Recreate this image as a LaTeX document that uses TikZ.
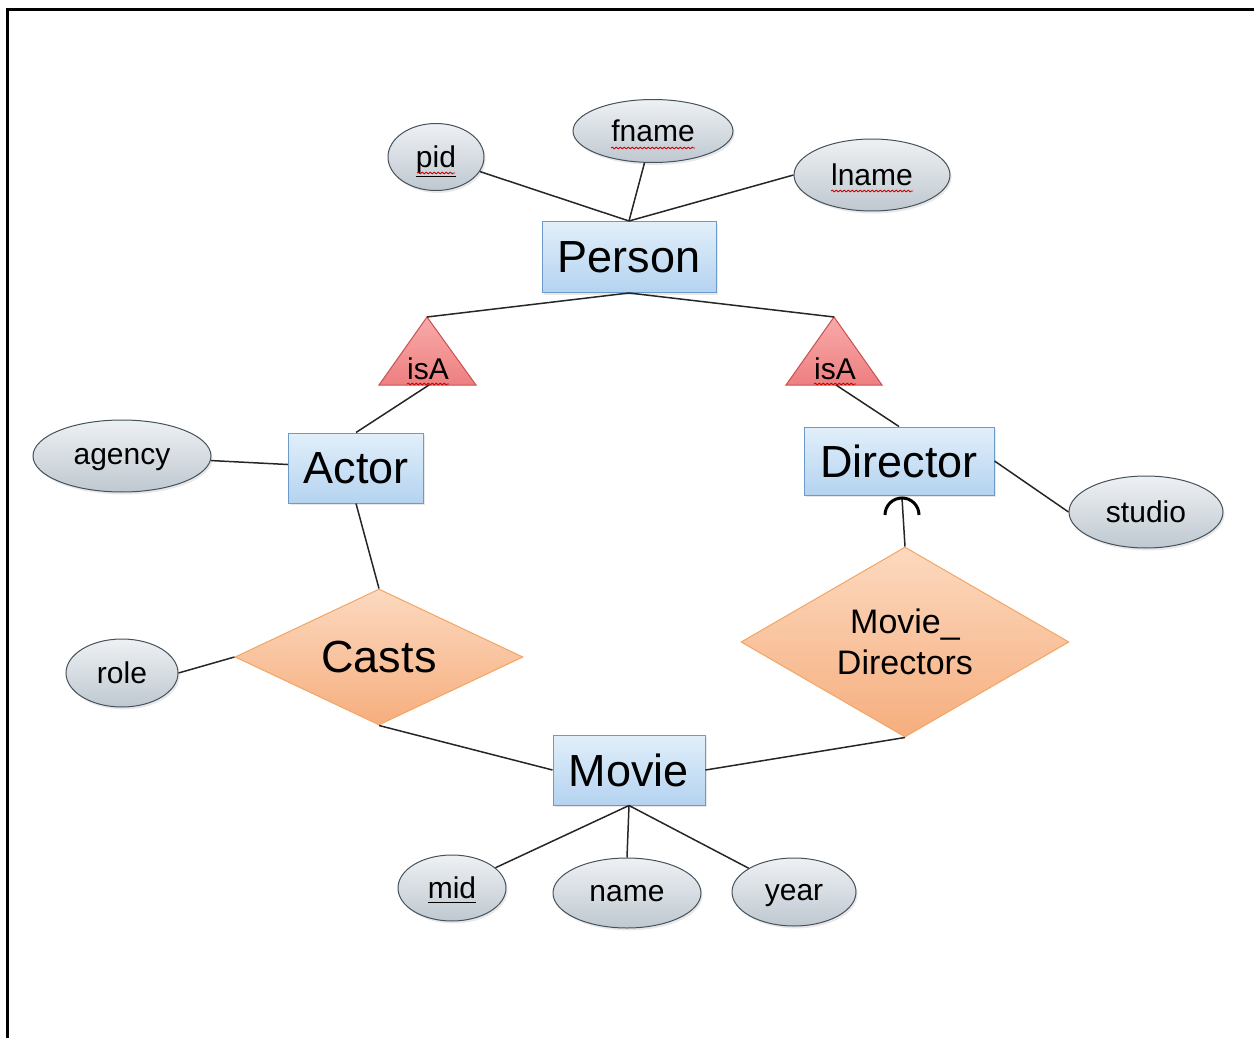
\documentclass[tikz,border=0pt]{standalone}
\usepackage{fontspec}
\setmainfont{Liberation Sans}
\usetikzlibrary{shapes.geometric,shadows,calc,decorations.pathmorphing}

% palette
\definecolor{entTop}{HTML}{E2EFFA}
\definecolor{entBot}{HTML}{B4D3F0}
\definecolor{entLine}{HTML}{6C9BCB}
\definecolor{attTop}{HTML}{EEF1F4}
\definecolor{attBot}{HTML}{BFC8D0}
\definecolor{attLine}{HTML}{45525C}
\definecolor{relTop}{HTML}{FCD9BF}
\definecolor{relBot}{HTML}{F6AE7E}
\definecolor{relLine}{HTML}{F3A563}
\definecolor{isaTop}{HTML}{F8AAAA}
\definecolor{isaBot}{HTML}{EE7F80}
\definecolor{isaLine}{HTML}{C9504F}

\tikzset{
  entity/.style={rectangle, draw=entLine, line width=0.5pt,
    top color=entTop, bottom color=entBot, inner sep=0pt, text depth=0pt,
    font=\fontsize{22.5}{27}\selectfont,
    drop shadow={opacity=0.18, shadow xshift=0.8pt, shadow yshift=-1.2pt}},
  attr/.style={ellipse, draw=attLine, line width=0.5pt,
    top color=attTop, bottom color=attBot, inner sep=0pt, text depth=0pt,
    font=\fontsize{15}{18}\selectfont,
    drop shadow={opacity=0.18, shadow xshift=0.8pt, shadow yshift=-1.2pt}},
  rel/.style={diamond, draw=relLine, line width=0.5pt,
    top color=relTop, bottom color=relBot, inner sep=0pt},
  isa/.style={draw=isaLine, line width=0.5pt, top color=isaTop, bottom color=isaBot},
  link/.style={line width=0.75pt, draw=black!85},
  squig/.style={draw=red!80!black, line width=0.4pt, decorate,
    decoration={snake, amplitude=0.45pt, segment length=2pt}},
}

\begin{document}
\begin{tikzpicture}[x=0.5pt, y=-0.5pt]
\useasboundingbox (0,0) rectangle (1254,1038);

% page frame (top and left edges)
\draw[line width=1.5pt] (7,1038) -- (7,10) -- (1254,10);

% entities
\node[entity, minimum width=87pt, minimum height=35.5pt] (person) at (629,257) {Person};
\node[entity, minimum width=67.5pt, minimum height=35pt] (actor) at (356,468) {Actor};
\node[entity, minimum width=95pt, minimum height=34pt] (director) at (899,461) {Director};
\node[entity, minimum width=76pt, minimum height=35pt] (movie) at (629,770) {Movie};

% attributes
\node[attr, minimum width=48pt, minimum height=33.5pt] (pid) at (436,157) {\underline{pid}};
\node[attr, minimum width=80pt, minimum height=31.5pt] (fname) at (653,131) {fname};
\node[attr, minimum width=78pt, minimum height=36pt] (lname) at (872,175) {lname};
\node[attr, minimum width=89pt, minimum height=36pt] (agency) at (122,456) {agency};
\node[attr, minimum width=77pt, minimum height=36pt] (studio) at (1146,512) {studio};
\node[attr, minimum width=56pt, minimum height=34pt] (role) at (122,673) {role};
\node[attr, minimum width=54pt, minimum height=33pt] (mid) at (452,888) {\underline{mid}};
\node[attr, minimum width=74pt, minimum height=35pt] (name) at (627,893) {name};
\node[attr, minimum width=62pt, minimum height=34pt] (year) at (794,892) {year};

% relationships
\node[rel, aspect=2.1, minimum width=144pt, minimum height=68pt,
  font=\fontsize{22.5}{27}\selectfont] (casts) at (379,657) {Casts};
\node[rel, aspect=1.73, minimum width=164pt, minimum height=95pt, align=center,
  font=\fontsize{17}{20.5}\selectfont] (md) at (905,642) {Movie\_\\Directors};

% isA triangles
\path[isa] (427,317) -- (476,385) -- (379,385) -- cycle;
\path[isa] (834,317) -- (882,385) -- (786,385) -- cycle;
\coordinate (isaLtop) at (427,317);
\coordinate (isaLbot) at (429,385);
\coordinate (isaRtop) at (834,317);
\coordinate (isaRbot) at (836,385);
\node[font=\fontsize{15}{18}\selectfont, inner sep=0pt] (isaL) at (428,369) {isA};
\node[font=\fontsize{15}{18}\selectfont, inner sep=0pt] (isaR) at (835,369) {isA};

% spelling marks under the labels
\draw[squig] ($(fname.center)+(-42,17)$) -- ($(fname.center)+(42,17)$);
\draw[squig] ($(lname.center)+(-41,16)$) -- ($(lname.center)+(41,16)$);
\draw[squig] ($(pid.center)+(-19,16)$) -- ($(pid.center)+(19,16)$);
\draw[squig] ($(isaL.center)+(-21,15)$) -- ($(isaL.center)+(21,15)$);
\draw[squig] ($(isaR.center)+(-21,15)$) -- ($(isaR.center)+(21,15)$);

% connectors
\draw[link] (pid) -- (person.north);
\draw[link] (fname) -- (person.north);
\draw[link] (lname.west) -- (person.north);
\draw[link] (person.south) -- (isaLtop);
\draw[link] (person.south) -- (isaRtop);
\draw[link] (isaLbot) -- (actor.north);
\draw[link] (isaRbot) -- (director.north);
\draw[link] (agency) -- (actor);
\draw[link] (director.east) -- (studio.west);
\draw[link] (actor.south) -- (casts.north);
\draw[link] (role.east) -- (casts.west);
\draw[link] (casts.south) -- (movie.west);
\draw[link] (movie.east) -- (md.south);
\coordinate (arcTop) at (902,498);
\draw[link] (md.north) -- (arcTop);
\draw[line width=1.5pt] (885,515) arc[start angle=180, end angle=0, radius=8.5pt];
\draw[link] (movie.south) -- (mid);
\draw[link] (movie.south) -- (name.north);
\draw[link] (movie.south) -- (year);
\end{tikzpicture}
\end{document}
